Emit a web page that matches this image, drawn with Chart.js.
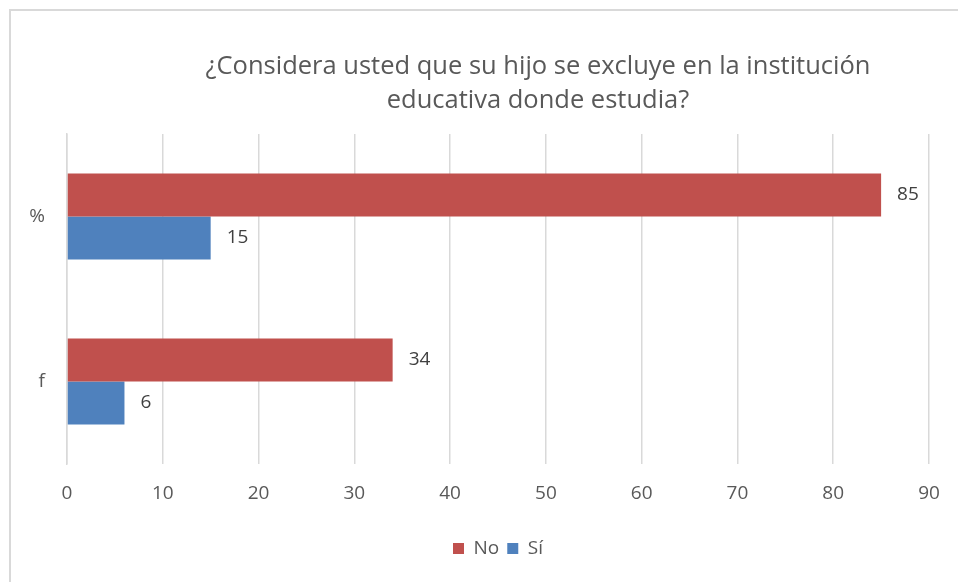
<!DOCTYPE html>
<html>
<head>
<meta charset="utf-8">
<script src="https://cdn.jsdelivr.net/npm/chart.js@4"></script>
<style>
  body { margin: 0; background: #fff; }
  #caja { position: relative; width: 958px; height: 582px; }
  #marco { position: absolute; left: 9px; top: 9px; width: 960px; height: 590px; border: 2px solid #d9d9d9; }
  #titulo {
    position: absolute; left: 138px; top: 47px; width: 800px; text-align: center;
    font-family: "Open Sans", sans-serif; font-size: 25.5px; line-height: 34px; color: #595959;
  }
  canvas { position: absolute; left: 0; top: 0; }
</style>
</head>
<body>
<div id="caja">
  <div id="marco"></div>
  <canvas id="grafico" width="958" height="582"></canvas>
  <div id="titulo">¿Considera usted que su hijo se excluye en la institución<br>educativa donde estudia?</div>
</div>
<script>
const categorias = ["%", "f"];
const valoresNo = [85, 34];
const valoresSi = [15, 6];
const ticksX = [0, 10, 20, 30, 40, 50, 60, 70, 80, 90];

const fuente = "'Open Sans', sans-serif";

// etiquetas de valor a la derecha de cada barra
const etiquetas = {
  id: "etiquetas",
  afterDatasetsDraw(chart) {
    const ctx = chart.ctx;
    ctx.save();
    ctx.font = "19px " + fuente;
    ctx.fillStyle = "#404040";
    ctx.textBaseline = "middle";
    chart.data.datasets.forEach((ds, i) => {
      chart.getDatasetMeta(i).data.forEach((barra, j) => {
        ctx.fillText(ds.data[j], barra.x + 16, barra.y);
      });
    });
    ctx.restore();
  }
};

new Chart(document.getElementById("grafico"), {
  type: "bar",
  data: {
    labels: categorias,
    datasets: [
      { label: "No", data: valoresNo, backgroundColor: "#C0504D" },
      { label: "Sí", data: valoresSi, backgroundColor: "#4F81BD" }
    ]
  },
  options: {
    indexAxis: "y",
    responsive: false,
    animation: false,
    categoryPercentage: 0.52,
    barPercentage: 1,
    layout: { padding: { left: 10, top: 134, right: 29, bottom: 14 } },
    scales: {
      x: {
        min: 0,
        max: 90,
        afterBuildTicks(scale) { scale.ticks = ticksX.map(v => ({ value: v })); },
        afterFit(scale) { scale.height = 67; },
        grid: { color: "#d9d9d9", lineWidth: 1.5, drawTicks: false },
        border: { display: false },
        ticks: { color: "#595959", font: { family: fuente, size: 19 }, padding: 18 }
      },
      y: {
        afterFit(scale) { scale.width = 57; },
        grid: { display: false, drawTicks: false },
        border: { color: "#d9d9d9", width: 1.5 },
        ticks: { color: "#595959", font: { family: fuente, size: 19 }, padding: 22 }
      }
    },
    plugins: {
      legend: {
        position: "bottom",
        fullSize: false,
        labels: { boxWidth: 11, boxHeight: 11, color: "#595959", font: { family: fuente, size: 19 }, padding: 8 }
      },
      title: { display: false },
      tooltip: { enabled: false }
    }
  },
  plugins: [etiquetas]
});
</script>
</body>
</html>
